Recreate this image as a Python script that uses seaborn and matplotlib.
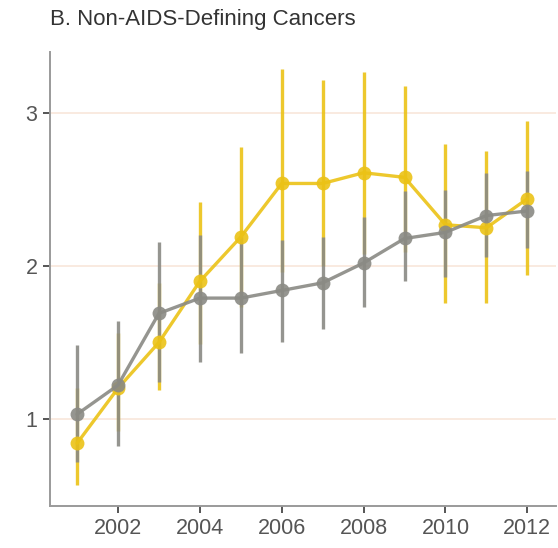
import numpy as np
import pandas as pd
import matplotlib
matplotlib.use("Agg")
import matplotlib.pyplot as plt
import seaborn as sns

# values
years = [2001, 2002, 2003, 2004, 2005, 2006, 2007, 2008, 2009, 2010, 2011, 2012]

gray_est = [1.03, 1.22, 1.69, 1.79, 1.79, 1.84, 1.89, 2.02, 2.18, 2.22, 2.33, 2.36]
gray_lo = [0.72, 0.82, 1.24, 1.37, 1.43, 1.50, 1.59, 1.73, 1.90, 1.93, 2.06, 2.12]
gray_hi = [1.48, 1.64, 2.16, 2.20, 2.19, 2.17, 2.19, 2.32, 2.49, 2.50, 2.61, 2.62]

yellow_est = [0.84, 1.20, 1.50, 1.90, 2.19, 2.54, 2.54, 2.61, 2.58, 2.27, 2.25, 2.44]
yellow_lo = [0.57, 0.92, 1.19, 1.49, 1.73, 1.96, 2.00, 2.08, 2.09, 1.76, 1.76, 1.94]
yellow_hi = [1.20, 1.56, 1.89, 2.42, 2.78, 3.29, 3.22, 3.27, 3.18, 2.80, 2.75, 2.95]

yellow_col = "#EBC216"
gray_col = "#8A8A84"

df = pd.concat([
    pd.DataFrame({"year": years, "est": yellow_est, "lo": yellow_lo, "hi": yellow_hi, "grp": "yellow"}),
    pd.DataFrame({"year": years, "est": gray_est, "lo": gray_lo, "hi": gray_hi, "grp": "gray"}),
])
palette = {"yellow": yellow_col, "gray": gray_col}

sns.set_style("white")
plt.rcParams["font.family"] = ["Liberation Sans", "DejaVu Sans"]

fig = plt.figure(figsize=(5.58, 5.48), dpi=100)
ax = fig.add_axes([50 / 558, 1 - 506 / 548, 506 / 558, 454 / 548])

for y in [1, 2, 3]:
    ax.axhline(y, color="#F8E6DA", lw=1.2, zorder=0)

for grp in ["yellow", "gray"]:
    sub = df[df["grp"] == grp]
    ax.vlines(sub["year"], sub["lo"], sub["hi"], color=palette[grp], lw=2.4, alpha=0.9, zorder=2)

sns.lineplot(data=df, x="year", y="est", hue="grp", hue_order=["yellow", "gray"],
             palette=palette, marker="o", markersize=10, markeredgewidth=0,
             lw=2.4, alpha=0.9, legend=False, ax=ax, zorder=3)

ax.set_xlim(2000.34, 2012.7)
ax.set_ylim(0.43, 3.40)
ax.set_xticks([2002, 2004, 2006, 2008, 2010, 2012])
ax.set_yticks([1, 2, 3])
ax.set_xlabel("")
ax.set_ylabel("")

for s in ["top", "right"]:
    ax.spines[s].set_visible(False)
for s in ["left", "bottom"]:
    ax.spines[s].set_color("#9a9a9a")
    ax.spines[s].set_linewidth(1.4)

ax.tick_params(axis="both", which="both", length=5, width=1.4, color="#555555",
               labelsize=15.5, labelcolor="#555555", pad=4, left=True, bottom=True)

fig.text(50 / 558, 1 - 20 / 548, "B. Non-AIDS-Defining Cancers", fontsize=16,
         color="#333333", ha="left", va="center")

fig.savefig("out.png", dpi=100)
